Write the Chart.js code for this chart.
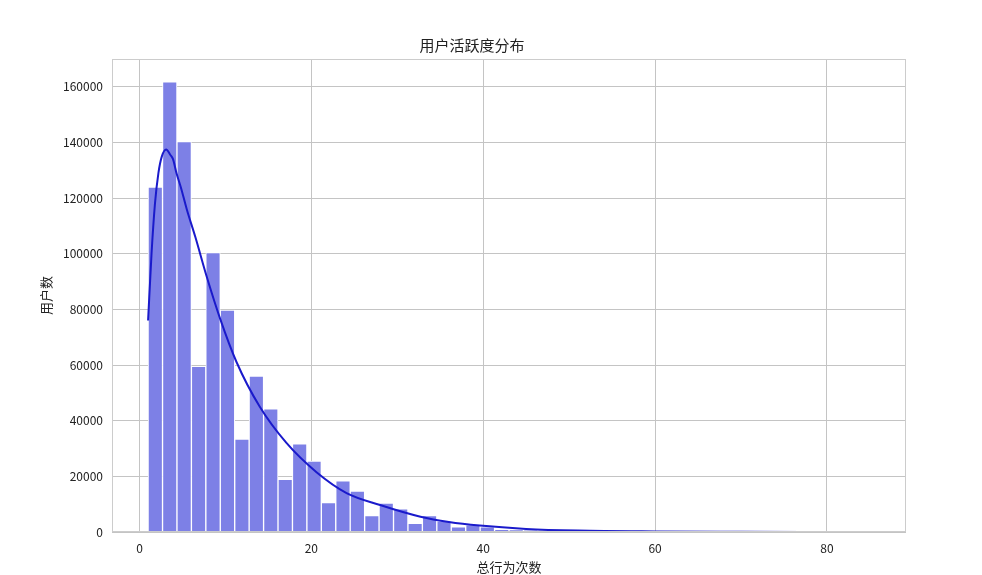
<!DOCTYPE html>
<html>
<head>
<meta charset="utf-8">
<script src="https://cdn.jsdelivr.net/npm/chart.js@4/dist/chart.umd.min.js"></script>
<style>
  html, body { margin: 0; padding: 0; background: #fff; }
  #wrap { width: 982px; height: 575px; }
</style>
</head>
<body>
<div id="wrap"><canvas id="chart" width="982" height="575"></canvas></div>
<script>
// histogram: 50 bins from 1 to 85
const binStart = 1;
const binWidth = 1.68;
const userCounts = [
  124000, 161800, 140300, 59500, 100400, 79800, 33400, 56000, 44300, 18900,
  31700, 25500, 10600, 18400, 14700, 5900, 10400, 8300, 3100, 5900,
  3900, 1900, 2600, 1900, 1000, 900, 600, 500, 300, 350,
  250, 200, 150, 120, 100, 80, 60, 50, 40, 30,
  30, 20, 20, 15, 10, 10, 8, 6, 5, 4
];

// kde curve
const kdeX = [1.0, 1.4, 1.8, 2.2, 2.6, 3.1, 3.6, 3.9, 4.3, 4.8, 5.5, 6.5, 7.8, 9.4, 11.3,
  14.0, 17.1, 20.6, 24.1, 28.0, 32.7, 36.0, 39.6, 45.0, 51.0, 60.0, 70.0, 85.0];
const kdeY = [76000, 100000, 118000, 129000, 135000, 137500, 135500, 134000, 129000, 124000,
  116000, 106000, 92000, 76500, 61000, 45000, 32000, 21500, 14000, 9700,
  5500, 3600, 2300, 1100, 500, 200, 80, 20];

const xTicks = [0, 20, 40, 60, 80];
const yTicks = [0, 20000, 40000, 60000, 80000, 100000, 120000, 140000, 160000];

const barData = userCounts.map((v, i) => ({ x: binStart + binWidth * (i + 0.5), y: v }));
const kdeData = kdeX.map((x, i) => ({ x: x, y: kdeY[i] }));

const FONT = "'Noto Sans CJK SC', 'DejaVu Sans', sans-serif";

// light frame round the plot area
const frame = {
  id: 'frame',
  afterDraw(chart) {
    const a = chart.chartArea, c = chart.ctx;
    c.save();
    c.strokeStyle = '#cccccc';
    c.lineWidth = 1;
    c.strokeRect(a.left + 0.5, a.top + 0.5, a.right - a.left - 1, a.bottom - a.top - 1);
    c.restore();
  }
};

new Chart(document.getElementById('chart').getContext('2d'), {
  type: 'bar',
  data: {
    datasets: [
      {
        type: 'line',
        data: kdeData,
        borderColor: '#1a1acb',
        borderWidth: 2,
        pointRadius: 0,
        cubicInterpolationMode: 'monotone',
        order: 0
      },
      {
        type: 'bar',
        data: barData,
        backgroundColor: 'rgba(125,128,230,1)',
        borderColor: '#ffffff',
        borderWidth: 1,
        barPercentage: 1,
        categoryPercentage: 1,
        order: 1
      }
    ]
  },
  options: {
    responsive: false,
    animation: false,
    layout: { padding: { left: 38, right: 76, top: 0, bottom: 0 } },
    plugins: {
      legend: { display: false },
      tooltip: { enabled: false },
      title: {
        display: true,
        text: '用户活跃度分布',
        color: '#222',
        font: { family: FONT, size: 15, weight: 'normal' },
        padding: { top: 36, bottom: 5 }
      }
    },
    scales: {
      x: {
        type: 'linear',
        min: -3.2,
        max: 89.2,
        offset: false,
        afterBuildTicks: s => { s.ticks = xTicks.map(v => ({ value: v })); },
        afterFit: s => { s.height = 43; },
        grid: { color: '#c4c4c4', drawTicks: false, offset: false },
        border: { display: false },
        ticks: { color: '#222', padding: 9, font: { family: FONT, size: 12 } },
        title: {
          display: true,
          text: '总行为次数',
          color: '#222',
          font: { family: FONT, size: 13 },
          padding: { top: 0, bottom: 0 }
        }
      },
      y: {
        min: 0,
        max: 170000,
        afterBuildTicks: s => { s.ticks = yTicks.map(v => ({ value: v })); },
        afterFit: s => { s.width = 74; },
        grid: { color: '#c4c4c4', drawTicks: false },
        border: { display: false },
        ticks: {
          color: '#222',
          padding: 9,
          font: { family: FONT, size: 12 },
          callback: v => String(v)
        },
        title: {
          display: true,
          text: '用户数',
          color: '#222',
          font: { family: FONT, size: 13 },
          padding: { top: 0, bottom: 0 }
        }
      }
    }
  },
  plugins: [frame]
});
</script>
</body>
</html>
